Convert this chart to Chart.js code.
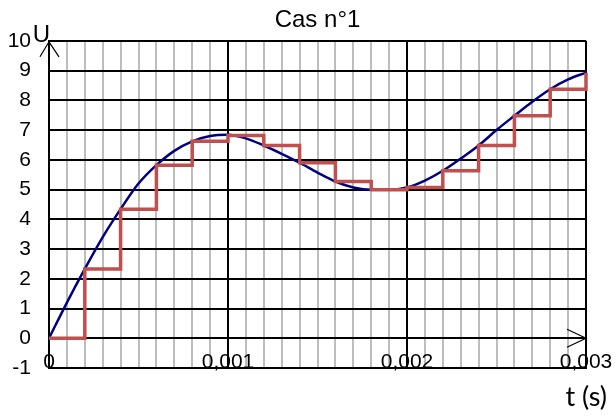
<!DOCTYPE html>
<html>
<head>
<meta charset="utf-8">
<script src="https://cdn.jsdelivr.net/npm/chart.js@4.4.1/dist/chart.umd.min.js"></script>
<style>
  html, body { margin: 0; padding: 0; background: #fff; }
  #wrap { width: 616px; height: 417px; position: relative; }
</style>
</head>
<body>
<div id="wrap"><canvas id="chart"></canvas></div>
<script>
// t (s), sampling instants
const sampleTimes = [0, 0.0002, 0.0004, 0.0006, 0.0008, 0.001, 0.0012, 0.0014, 0.0016, 0.0018, 0.002, 0.0022, 0.0024, 0.0026, 0.0028, 0.003];
// sampled values (held)
const sampleValues = [0, 2.33, 4.34, 5.82, 6.62, 6.82, 6.48, 5.9, 5.27, 4.99, 5.07, 5.63, 6.48, 7.48, 8.37, 8.93];

// continuous signal
const signalTimes = [0, 0.0001, 0.0002, 0.0003, 0.0004, 0.0005, 0.0006, 0.0007, 0.0008, 0.0009, 0.001, 0.0011, 0.0012, 0.0013, 0.0014, 0.0015, 0.0016, 0.0017, 0.0018, 0.0019, 0.002, 0.0021, 0.0022, 0.0023, 0.0024, 0.0025, 0.0026, 0.0027, 0.0028, 0.0029, 0.003];
const signalValues = [0, 1.2, 2.33, 3.4, 4.34, 5.2, 5.82, 6.3, 6.62, 6.8, 6.84, 6.72, 6.48, 6.2, 5.9, 5.57, 5.27, 5.07, 4.99, 4.99, 5.07, 5.3, 5.63, 6.04, 6.48, 7.0, 7.48, 7.95, 8.37, 8.7, 8.93];

const xTicks = [0, 0.001, 0.002, 0.003];
const yMin = -1, yMax = 10;

const toXY = (xs, ys) => xs.map((x, i) => ({ x: x, y: ys[i] }));
const isMajor = (v) => xTicks.some((t) => Math.abs(t - v) < 1e-9);

const decorations = {
  id: "decorations",
  afterDraw(chart) {
    const { ctx, scales } = chart;
    const x0 = scales.x.getPixelForValue(0);
    const x1 = scales.x.getPixelForValue(0.003);
    const yTop = scales.y.getPixelForValue(yMax);
    const yZero = scales.y.getPixelForValue(0);
    ctx.save();
    ctx.strokeStyle = "#000";
    ctx.lineWidth = 1.2;
    // arrow on U axis
    ctx.beginPath();
    ctx.moveTo(x0 - 9, yTop + 16);
    ctx.lineTo(x0, yTop + 1);
    ctx.lineTo(x0 + 10, yTop + 16);
    ctx.stroke();
    // arrow on t axis
    ctx.beginPath();
    ctx.moveTo(x1 - 19, yZero - 9);
    ctx.lineTo(x1, yZero);
    ctx.lineTo(x1 - 19, yZero + 9);
    ctx.stroke();
    ctx.fillStyle = "#000";
    ctx.font = "24px 'Liberation Sans', Arial, sans-serif";
    ctx.textAlign = "right";
    ctx.textBaseline = "alphabetic";
    ctx.fillText("U", x0 + 1, yTop + 1);
    ctx.font = "27px Lato, sans-serif";
    ctx.fillText("t (s)", 607, 406);
    ctx.restore();
  },
};

new Chart(document.getElementById("chart"), {
  type: "line",
  data: {
    datasets: [
      {
        label: "signal",
        data: toXY(signalTimes, signalValues),
        borderColor: "#000080",
        borderWidth: 2.5,
        pointRadius: 0,
        tension: 0.4,
        cubicInterpolationMode: "monotone",
        clip: false,
        order: 2,
      },
      {
        label: "échantillons",
        data: toXY(sampleTimes, sampleValues),
        borderColor: "#c0504d",
        borderWidth: 3.5,
        pointRadius: 0,
        stepped: true,
        clip: false,
        order: 1,
      },
    ],
  },
  options: {
    responsive: true,
    maintainAspectRatio: false,
    animation: false,
    layout: { padding: { left: 0, right: 30, top: 0, bottom: 0 } },
    plugins: {
      legend: { display: false },
      tooltip: { enabled: false },
      title: {
        display: true,
        text: "Cas n°1",
        fullSize: false,
        color: "#000",
        font: { family: "'Liberation Sans', Arial, sans-serif", size: 24, weight: "normal" },
        padding: { top: 6, bottom: 6 },
      },
    },
    scales: {
      x: {
        type: "linear",
        min: 0,
        max: 0.003,
        afterFit(scale) { scale.height = 49; },
        grid: {
          drawTicks: false,
          lineWidth: 2,
          color: (c) => (isMajor(c.tick.value) ? "#000" : "#bdbdbd"),
        },
        border: { color: "#000", width: 2 },
        ticks: {
          stepSize: 0.0001,
          autoSkip: false,
          maxRotation: 0,
          mirror: true,
          padding: -7,
          color: "#000",
          font: { family: "'Liberation Sans', Arial, sans-serif", size: 21 },
          callback: (v) => (isMajor(v) ? String(xTicks.find((t) => Math.abs(t - v) < 1e-9)).replace(".", ",") : ""),
        },
      },
      y: {
        type: "linear",
        min: yMin,
        max: yMax,
        afterFit(scale) { scale.width = 49; },
        grid: { drawTicks: false, lineWidth: 2, color: "#000" },
        border: { color: "#000", width: 2 },
        ticks: {
          stepSize: 1,
          padding: 18,
          color: "#000",
          font: { family: "'Liberation Sans', Arial, sans-serif", size: 21 },
        },
      },
    },
  },
  plugins: [decorations],
});
</script>
</body>
</html>
